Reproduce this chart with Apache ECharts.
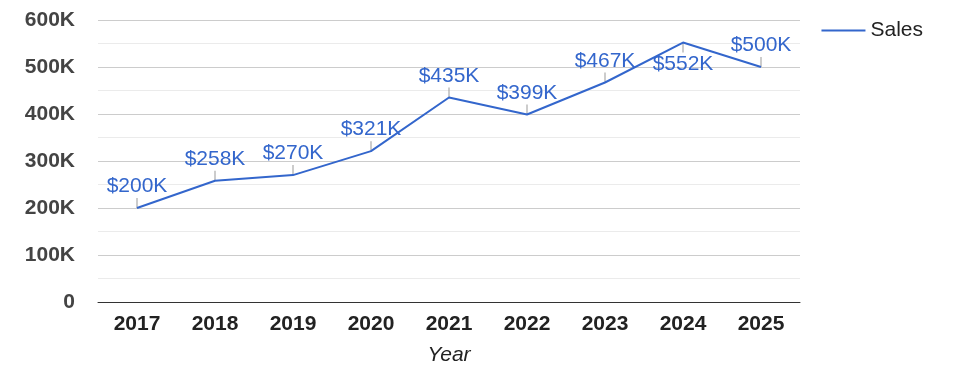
<!DOCTYPE html>
<html lang="en">
<head>
<meta charset="UTF-8" />
<title>Sales</title>
<script src="https://cdn.jsdelivr.net/npm/echarts@6/dist/echarts.min.js"></script>
<style type="text/css">
html,body{margin:0;padding:0;background:#fff;}
#main{width:975px;height:378px;}
</style>
</head>
<body>
<div id="main"></div>
<script type="text/javascript">
var years = ['2017','2018','2019','2020','2021','2022','2023','2024','2025'];
var sales = [200000, 258000, 270000, 321000, 435000, 399000, 467000, 552000, 500000];
var labelBelow = [7]; // the 2024 label sits under the line
var yTicks = [0, 100000, 200000, 300000, 400000, 500000, 600000];

var font = '"Liberation Sans", Arial, sans-serif';

function money(v){
	return '$' + Math.round(v/1000) + 'K';
}

// leader ticks + value labels
var tickData = [];
for(var i=0;i<sales.length;i++){
	var below = labelBelow.indexOf(i) >= 0;
	tickData.push({
		value: sales[i],
		symbolOffset: [0, below ? 5 : -5],
		label: {position: below ? 'bottom' : 'top'}
	});
}

var myChart = echarts.init(document.getElementById('main'));
myChart.setOption({
	animation: false,
	grid: {left: 98, right: 175, top: 20, bottom: 76, outerBoundsMode: 'none', containLabel: false},
	legend: {
		data: ['Sales'],
		right: 47, top: 15,
		itemWidth: 44, itemHeight: 2, itemGap: 8,
		icon: 'rect',
		textStyle: {fontFamily: font, fontSize: 21, color: '#222'}
	},
	xAxis: {
		type: 'category',
		data: years,
		name: 'Year',
		nameLocation: 'middle',
		nameGap: 43,
		nameTextStyle: {fontFamily: font, fontSize: 21, fontStyle: 'italic', color: '#222'},
		axisLine: {lineStyle: {color: '#333', width: 1}},
		axisTick: {show: false},
		axisLabel: {fontFamily: font, fontSize: 21, fontWeight: 'bold', color: '#222', margin: 12}
	},
	yAxis: {
		type: 'value',
		min: yTicks[0],
		max: yTicks[yTicks.length-1],
		interval: 100000,
		axisLine: {show: false},
		axisTick: {show: false},
		splitLine: {lineStyle: {color: '#ccc'}},
		minorTick: {show: false, splitNumber: 2},
		minorSplitLine: {show: true, lineStyle: {color: '#ebebeb'}},
		axisLabel: {
			fontFamily: font, fontSize: 21, fontWeight: 'bold', color: '#444', margin: 23,
			formatter: function(v){ return v === 0 ? '0' : (v/1000) + 'K'; }
		}
	},
	series: [
		{
			name: 'Sales',
			type: 'line',
			data: sales,
			showSymbol: false,
			lineStyle: {color: '#3366cc', width: 2},
			itemStyle: {color: '#3366cc'},
			z: 3
		},
		{
			name: 'ticks',
			type: 'scatter',
			data: tickData,
			symbol: 'rect',
			symbolSize: [1, 10],
			itemStyle: {color: '#999', opacity: 1},
			z: 2,
			label: {
				show: true,
				distance: 1,
				fontFamily: font,
				fontSize: 21,
				color: '#3366cc',
				opacity: 1,
				formatter: function(p){ return money(p.value); }
			}
		}
	]
});
</script>
</body>
</html>
